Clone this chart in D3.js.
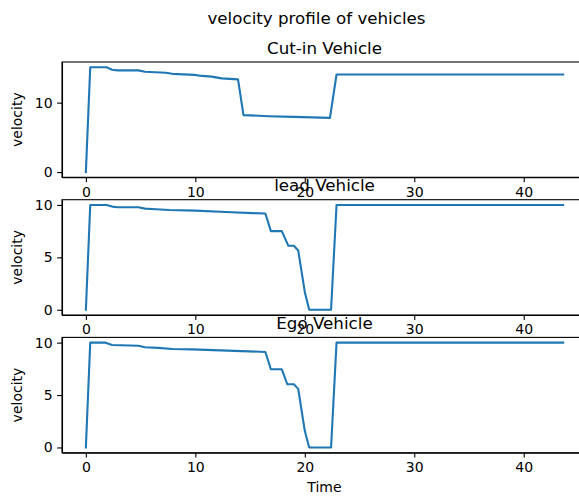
<!DOCTYPE html>
<html>
<head>
<meta charset="utf-8">
<script src="https://cdn.jsdelivr.net/npm/d3@7"></script>
<style>
  body { margin: 0; background: #fff; }
  svg { display: block; font-family: "DejaVu Sans", sans-serif; }
  .axis path, .axis line { stroke: #000; stroke-width: 1.1; }
  .axis text { fill: #000; font-size: 14px; font-family: "DejaVu Sans", sans-serif; }
</style>
</head>
<body>
<svg width="579" height="498"></svg>
<script>
// values (time in s, velocity)
const cutinTime = [0, 0.4, 1.9, 2.4, 2.9, 4.8, 5.4, 7.3, 7.9, 9.9, 10.6, 11.5, 12.4, 13.9, 14.4, 16.7, 19.0, 22.3, 22.9, 43.6];
const cutinVelocity = [0, 15.1, 15.1, 14.75, 14.65, 14.65, 14.45, 14.3, 14.15, 14.0, 13.85, 13.75, 13.5, 13.35, 8.2, 8.05, 7.95, 7.8, 14.05, 14.05];

const leadTime = [0, 0.4, 1.9, 2.4, 2.9, 4.8, 5.4, 6.4, 7.6, 10.0, 12.8, 15.2, 16.4, 16.9, 17.9, 18.5, 19.0, 19.4, 20.0, 20.4, 22.4, 22.9, 43.6];
const leadVelocity = [0, 10, 10, 9.84, 9.78, 9.78, 9.65, 9.59, 9.52, 9.46, 9.33, 9.22, 9.18, 7.5, 7.5, 6.1, 6.1, 5.65, 1.7, 0, 0, 10, 10];

const egoTime = [0, 0.4, 1.8, 2.4, 4.8, 5.4, 6.6, 7.9, 9.7, 16.4, 16.9, 17.9, 18.4, 19.0, 19.4, 20.0, 20.4, 22.4, 22.9, 43.6];
const egoVelocity = [0, 10, 10, 9.78, 9.71, 9.56, 9.5, 9.4, 9.36, 9.11, 7.46, 7.46, 6.03, 6.03, 5.59, 1.59, 0, 0, 10, 10];

const titles = ["Cut-in Vehicle", "lead Vehicle", "Ego Vehicle"];
const xTicks = [0, 10, 20, 30, 40];
const yTicks = [[0, 10], [0, 5, 10], [0, 5, 10]];

const panels = [
    { title: titles[0], t: cutinTime, v: cutinVelocity, ticks: yTicks[0] },
    { title: titles[1], t: leadTime, v: leadVelocity, ticks: yTicks[1] },
    { title: titles[2], t: egoTime, v: egoVelocity, ticks: yTicks[2] }
];

var svg = d3.select("svg");
svg.append("rect").attr("width", 579).attr("height", 498).attr("fill", "#fff");

const left = 62, right = 587;
const tops = [62, 199.7, 337.4];
const axH = 115.3;

// matplotlib-like 5% margins
function padded(ext) {
    const r = ext[1] - ext[0];
    return [ext[0] - 0.05 * r, ext[1] + 0.05 * r];
}

svg.append("text")
    .attr("x", 316.5)
    .attr("y", 24)
    .attr("text-anchor", "middle")
    .attr("font-size", "16.7px")
    .text("velocity profile of vehicles");

panels.forEach((p, i) => {
    const top = tops[i], bottom = top + axH;
    const data = p.t.map((t, j) => [t, p.v[j]]);

    var x = d3.scaleLinear()
        .domain(padded(d3.extent(p.t)))
        .range([left, right]);
    var y = d3.scaleLinear()
        .domain(padded(d3.extent(p.v)))
        .range([bottom, top]);

    let line = d3.line()
        .x(d => x(d[0]))
        .y(d => y(d[1]));

    svg.append("path")
        .datum(data)
        .attr("fill", "none")
        .attr("stroke", "#1f77b4")
        .attr("stroke-width", 2.1)
        .attr("stroke-linejoin", "round")
        .attr("stroke-linecap", "square")
        .attr("d", line);

    var xAxis = d3.axisBottom(x).tickValues(xTicks).tickSize(4.9).tickPadding(4.5).tickSizeOuter(0);
    var yAxis = d3.axisLeft(y).tickValues(p.ticks).tickSize(4.9).tickPadding(4.5).tickSizeOuter(0);

    svg.append("g")
        .attr("class", "axis")
        .attr("transform", `translate(0,${bottom})`)
        .call(xAxis);
    svg.append("g")
        .attr("class", "axis")
        .attr("transform", `translate(${left},0)`)
        .call(yAxis);

    // box
    svg.append("rect")
        .attr("x", left).attr("y", top)
        .attr("width", right - left).attr("height", axH)
        .attr("fill", "none").attr("stroke", "#000").attr("stroke-width", 1.1);

    svg.append("text")
        .attr("x", (left + right) / 2)
        .attr("y", top - 8.3)
        .attr("text-anchor", "middle")
        .attr("font-size", "16.7px")
        .text(p.title);

    svg.append("text")
        .attr("transform", `translate(22,${(top + bottom) / 2}) rotate(-90)`)
        .attr("text-anchor", "middle")
        .attr("font-size", "14px")
        .text("velocity");
});

svg.append("text")
    .attr("x", (left + right) / 2)
    .attr("y", 492)
    .attr("text-anchor", "middle")
    .attr("font-size", "14px")
    .text("Time");
</script>
</body>
</html>
